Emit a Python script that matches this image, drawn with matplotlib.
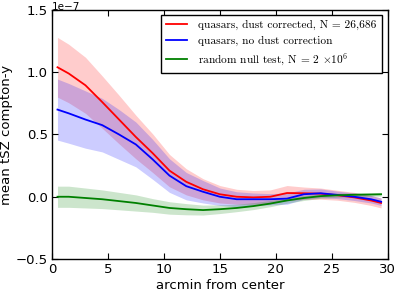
import matplotlib
matplotlib.use('Agg')
import matplotlib.pyplot as plt
import numpy as np

plt.rcParams.update({'font.size': 9, 'mathtext.fontset': 'cm',
                     'xtick.direction': 'in', 'ytick.direction': 'in',
                     'xtick.top': True, 'ytick.right': True})

# arcmin from center
arcmin = [0.5, 1.5, 3, 4.5, 6, 7.5, 9, 10.5, 12, 13.5, 15, 16.5, 18, 19.5, 21,
          22.5, 24, 25.5, 27, 28.5, 29.4]

# mean y in units of 1e-7
dust_corr = [1.04, 0.99, 0.895, 0.76, 0.62, 0.48, 0.35, 0.21, 0.12, 0.06, 0.02,
             0.0, -0.005, 0.0, 0.03, 0.028, 0.025, 0.012, -0.005, -0.03, -0.05]
dust_corr_err = [0.24, 0.235, 0.225, 0.21, 0.195, 0.175, 0.155, 0.13, 0.105, 0.085,
                 0.07, 0.06, 0.055, 0.055, 0.06, 0.05, 0.045, 0.04, 0.04, 0.04, 0.04]

no_dust = [0.70, 0.67, 0.62, 0.575, 0.50, 0.42, 0.30, 0.17, 0.085, 0.04, 0.0,
           -0.02, -0.02, -0.02, -0.015, 0.02, 0.028, 0.015, 0.0, -0.02, -0.04]
no_dust_err = [0.245, 0.24, 0.23, 0.215, 0.2, 0.18, 0.16, 0.135, 0.11, 0.09, 0.07,
               0.06, 0.05, 0.045, 0.045, 0.04, 0.035, 0.03, 0.03, 0.03, 0.03]

null_test = [0.0, 0.0, -0.01, -0.02, -0.035, -0.05, -0.07, -0.09, -0.10, -0.107,
             -0.10, -0.09, -0.075, -0.055, -0.03, -0.01, 0.005, 0.012, 0.016, 0.018, 0.02]
null_test_err = [0.085, 0.085, 0.08, 0.075, 0.07, 0.065, 0.055, 0.05, 0.045, 0.04,
                 0.035, 0.03, 0.028, 0.025, 0.022, 0.02, 0.018, 0.016, 0.015, 0.015, 0.015]

labels = ['quasars, dust corrected, N = 26,686',
          'quasars, no dust correction',
          r'random null test, N = 2 $\times 10^6$']

x = np.array(arcmin)
series = [(dust_corr, dust_corr_err, 'r'), (no_dust, no_dust_err, 'b'),
          (null_test, null_test_err, 'g')]

fig = plt.figure(figsize=(3.99, 2.93), dpi=100)
ax = fig.add_axes([0.130, 0.116, 0.842, 0.850])

for (y, e, c), lab in zip(series, labels):
    y = np.array(y) * 1e-7
    e = np.array(e) * 1e-7
    ax.fill_between(x, y - e, y + e, color=c, alpha=0.2, lw=0)
    ax.plot(x, y, color=c, lw=1.3, label=lab)

ax.set_xlim(0, 30)
ax.set_ylim(-0.5e-7, 1.5e-7)
ax.set_xticks([0, 5, 10, 15, 20, 25, 30])
ax.set_yticks([-0.5e-7, 0, 0.5e-7, 1.0e-7, 1.5e-7])
ax.tick_params(length=4, width=0.8, labelsize=9.5, pad=3)
ax.yaxis.OFFSETTEXTPAD = 0
ax.yaxis.get_offset_text().set_fontsize(7.5)
for s in ax.spines.values():
    s.set_linewidth(1.0)
ax.set_xlabel('arcmin from center', fontsize=9.5, labelpad=2)
ax.set_ylabel('mean tSZ compton-y', fontsize=9.5, labelpad=1.5)

leg = ax.legend(loc='upper right', prop={'family': 'cmr10', 'size': 8.2},
                fancybox=False, framealpha=1, edgecolor='k', handlelength=1.8,
                handletextpad=1.0, borderpad=0.45, labelspacing=0.5,
                borderaxespad=0, bbox_to_anchor=(0.982, 0.98))
leg.get_frame().set_linewidth(1.0)

fig.savefig('out.png', dpi=100)
